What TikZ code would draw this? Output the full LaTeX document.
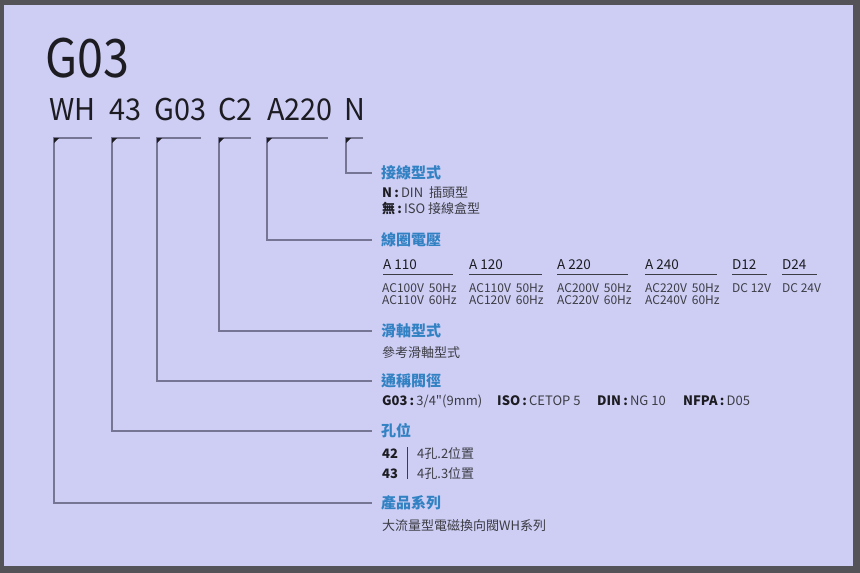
\documentclass[tikz,border=0pt]{standalone}
\usepackage{fontspec}
\setmainfont{Noto Sans CJK TC}
\newfontfamily\plainfont{Noto Sans CJK TC}
\usepackage{xcolor}
\usetikzlibrary{calc,positioning}

\definecolor{framegray}{RGB}{84,84,88}
\definecolor{paper}{RGB}{206,206,245}
\definecolor{inkdark}{RGB}{28,28,34}
\definecolor{inkgray}{RGB}{60,60,68}
\definecolor{headblue}{RGB}{50,130,195}
\definecolor{linegray}{RGB}{118,118,148}

\newcommand{\acgap}{\hspace{5pt}}

\tikzset{
  bigcode/.style={anchor=base west,inner sep=0pt,text=inkdark,font=\fontsize{53}{53}\selectfont\addfontfeatures{FakeStretch=0.88}},
  code/.style={anchor=base west,inner sep=0pt,text=inkdark,font=\fontsize{30}{30}\selectfont\addfontfeatures{FakeStretch=0.96}},
  heading/.style={anchor=west,inner sep=0pt,text=headblue,font=\fontsize{15}{15}\selectfont\bfseries},
  body/.style={anchor=base west,inner sep=0pt,text=inkgray,font=\fontsize{13}{13}\selectfont},
  small/.style={anchor=base west,inner sep=0pt,text=inkgray,font=\fontsize{12}{12}\selectfont},
  volt/.style={anchor=base west,inner sep=0pt,text=inkdark,font=\fontsize{13.5}{13.5}\selectfont},
  bracket/.style={draw=linegray,line width=1.1pt},
  rule/.style={draw=inkgray,line width=0.9pt}
}

\begin{document}
\begin{tikzpicture}[x=1pt,y=-1pt]
                        \useasboundingbox (0,0) rectangle (860,573);
                        % frame and paper
                        \fill[framegray] (0,0) rectangle (860,573);
                        \fill[paper] (4,5) rectangle (853,566);

                        % Model name
                        \node[bigcode] (model) at (45,77) {G03};

                        % Marking code parts
                        \node[code] (kWH) at (49,120) {WH};
                        \node[code] (kHole) at (109,120) {43};
                        \node[code] (kBore) at (154,120) {G03};
                        \node[code] (kSpool) at (218,120) {C2};
                        \node[code] (kVolt) at (267,120) {A220};
                        \node[code] (kConn) at (344,120) {N};

                        % Marking headings
                        \node[heading] (tConn) at (381,173) {接線型式};
                        \node[heading] (tVolt) at (381,240) {線圈電壓};
                        \node[heading] (tSpool) at (381,331) {滑軸型式};
                        \node[heading] (tBore) at (381,381) {通稱閥徑};
                        \node[heading] (tHole) at (381,431) {孔位};
                        \node[heading] (tSeries) at (381,503) {產品系列};

                        % Corner points of brackets
                        \coordinate (bWH) at (54,138);    \coordinate (eWH) at (92,138);
                        \coordinate (bHole) at (112,138); \coordinate (eHole) at (140,138);
                        \coordinate (bBore) at (157,138); \coordinate (eBore) at (201,138);
                        \coordinate (bSpool) at (219,138);\coordinate (eSpool) at (251,138);
                        \coordinate (bVolt) at (267,138); \coordinate (eVolt) at (328,138);
                        \coordinate (bConn) at (346,138); \coordinate (eConn) at (363,138);

                        % Drawing brackets to headings
                        \draw[bracket] (eWH) -- (bWH) |- ([xshift=-9pt]tSeries.west);
                        \draw[bracket] (eHole) -- (bHole) |- ([xshift=-9pt]tHole.west);
                        \draw[bracket] (eBore) -- (bBore) |- ([xshift=-9pt]tBore.west);
                        \draw[bracket] (eSpool) -- (bSpool) |- ([xshift=-9pt]tSpool.west);
                        \draw[bracket] (eVolt) -- (bVolt) |- ([xshift=-9pt]tVolt.west);
                        \draw[bracket] (eConn) -- (bConn) |- ([xshift=-9pt]tConn.west);

                        % Marking bracket corners
                        \fill[inkdark] (bWH) -- ++(5,0) -- ++(-5,5) -- cycle;
                        \fill[inkdark] (bHole) -- ++(5,0) -- ++(-5,5) -- cycle;
                        \fill[inkdark] (bBore) -- ++(5,0) -- ++(-5,5) -- cycle;
                        \fill[inkdark] (bSpool) -- ++(5,0) -- ++(-5,5) -- cycle;
                        \fill[inkdark] (bVolt) -- ++(5,0) -- ++(-5,5) -- cycle;
                        \fill[inkdark] (bConn) -- ++(5,0) -- ++(-5,5) -- cycle;

                        % Connection type
                        \node[body] (cN) at (382,197) {\textbf{\color{inkdark}N\,:}\,DIN\ \ 插頭型};
                        \node[body] (cNone) at (382,213) {\textbf{\color{inkdark}無\,:}\,ISO 接線盒型};

                        % Coil voltage
                        \node[volt] (v110) at (383,269) {A 110};
                        \node[volt] (v120) at (469,269) {A 120};
                        \node[volt] (v220) at (557,269) {A 220};
                        \node[volt] (v240) at (645,269) {A 240};
                        \node[volt] (d12) at (732,269) {D12};
                        \node[volt] (d24) at (782,269) {D24};
                        \draw[rule] (383,274) -- (453,274);
                        \draw[rule] (469,274) -- (542,274);
                        \draw[rule] (557,274) -- (628,274);
                        \draw[rule] (645,274) -- (717,274);
                        \draw[rule] (732,274) -- (767,274);
                        \draw[rule] (782,274) -- (817,274);
                        \node[small] (a110a) at (382,292) {AC100V\acgap 50Hz};
                        \node[small] (a110b) at (382,304) {AC110V\acgap 60Hz};
                        \node[small] (a120a) at (469,292) {AC110V\acgap 50Hz};
                        \node[small] (a120b) at (469,304) {AC120V\acgap 60Hz};
                        \node[small] (a220a) at (557,292) {AC200V\acgap 50Hz};
                        \node[small] (a220b) at (557,304) {AC220V\acgap 60Hz};
                        \node[small] (a240a) at (645,292) {AC220V\acgap 50Hz};
                        \node[small] (a240b) at (645,304) {AC240V\acgap 60Hz};
                        \node[small] (d12a) at (732,292) {DC 12V};
                        \node[small] (d24a) at (782,292) {DC 24V};

                        % Spool type
                        \node[body] (sRef) at (382,357) {參考滑軸型式};

                        % Nominal size
                        \node[body] (gG) at (382,405) {\textbf{\color{inkdark}G03\,:}\,3/4{\plainfont"}(9mm)};
                        \node[body] (gI) at (497,405) {\textbf{\color{inkdark}ISO\,:}\,CETOP 5};
                        \node[body] (gD) at (597,405) {\textbf{\color{inkdark}DIN\,:}\,NG 10};
                        \node[body] (gN) at (683,405) {\textbf{\color{inkdark}NFPA\,:}\,D05};

                        % Hole position
                        \node[body,font=\fontsize{13}{13}\selectfont\bfseries,text=inkdark] (h42) at (382,458) {42};
                        \node[body,font=\fontsize{13}{13}\selectfont\bfseries,text=inkdark] (h43) at (382,478) {43};
                        \draw[draw=inkgray,line width=0.9pt] (407,447) -- (407,479);
                        \node[body] (h42t) at (417,458) {4孔.2位置};
                        \node[body] (h43t) at (417,478) {4孔.3位置};

                        % Product series
                        \node[body] (sDesc) at (382,530) {大流量型電磁換向閥WH系列};
\end{tikzpicture}
\end{document}
